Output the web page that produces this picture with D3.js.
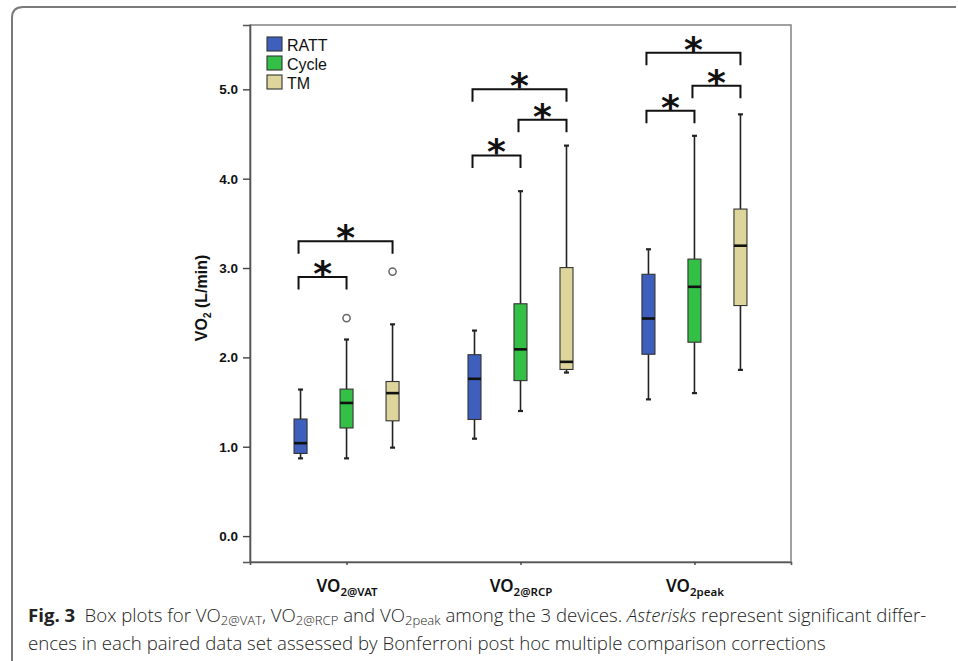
<!DOCTYPE html>
<html>
<head>
<meta charset="utf-8">
<script src="https://cdn.jsdelivr.net/npm/d3@7"></script>
<style>
  html, body { margin: 0; padding: 0; background: #fff; }
  svg { display: block; }
</style>
</head>
<body>
<svg id="chart" width="958" height="661"></svg>
<script>
// ---------- data ----------
const groups = ["VO2@VAT", "VO2@RCP", "VO2peak"];
const groupSubs = ["2@VAT", "2@RCP", "2peak"];
const devices = ["RATT", "Cycle", "TM"];
const deviceColors = ["#3f5fbd", "#34bf47", "#ddd59b"];
// five-number summaries per group: [low whisker, Q1, median, Q3, high whisker]
const rattStats  = [[0.87, 0.925, 1.04, 1.31, 1.64], [1.09, 1.305, 1.76, 2.03, 2.30], [1.53, 2.035, 2.435, 2.93, 3.21]];
const cycleStats = [[0.87, 1.21, 1.49, 1.645, 2.20], [1.40, 1.74, 2.09, 2.60, 3.86], [1.60, 2.17, 2.79, 3.10, 4.48]];
const tmStats    = [[0.99, 1.29, 1.60, 1.73, 2.37], [1.83, 1.865, 1.95, 3.005, 4.37], [1.86, 2.58, 3.25, 3.66, 4.72]];
const outlierGroup  = [0, 0];
const outlierDevice = [1, 2];
const outlierValue  = [2.44, 2.96];
const yTicks = [0, 1, 2, 3, 4, 5];
// significance brackets: group, from device, to device, bracket top value
const bracketGroup = [0, 0, 1, 1, 1, 2, 2, 2];
const bracketFrom  = [0, 0, 0, 1, 0, 0, 1, 0];
const bracketTo    = [1, 2, 1, 2, 2, 1, 2, 2];
const bracketValue = [2.90, 3.30, 4.26, 4.66, 5.00, 4.76, 5.04, 5.41];

const allStats = [rattStats, cycleStats, tmStats];

// ---------- layout ----------
const svg = d3.select("#chart");
const pLeft = 250, pRight = 791, pTop = 25, pBottom = 562;
const y = d3.scaleLinear().domain([-0.29, 5.72]).range([pBottom, pTop]);
const x = d3.scalePoint().domain(groups).range([pLeft, pRight]).padding(0.555);
const xi = d3.scalePoint().domain(devices).range([-46, 46]);
const boxW = 13;

// outer rounded frame
svg.append("path")
  .attr("d", "M12,661 V18 Q12,7 23,7 H956")
  .attr("fill", "none").attr("stroke", "#7a7a7a").attr("stroke-width", 2);

// plot border
svg.append("rect")
  .attr("x", pLeft).attr("y", pTop).attr("width", pRight - pLeft).attr("height", pBottom - pTop)
  .attr("fill", "none").attr("stroke", "#8a8a8a").attr("stroke-width", 1.6);

// y axis
const yAxis = svg.append("g")
  .attr("transform", `translate(${pLeft},0)`)
  .call(d3.axisLeft(y).tickValues(yTicks).tickFormat(d3.format(".1f")).tickSize(7).tickPadding(5));
yAxis.select(".domain").attr("stroke", "#555").attr("stroke-width", 1.6);
yAxis.selectAll(".tick line").attr("stroke", "#444").attr("stroke-width", 1.4);
yAxis.selectAll(".tick text")
  .attr("font-family", "Liberation Sans, Arial, sans-serif")
  .attr("font-size", 13.5).attr("font-weight", "bold").attr("fill", "#111");

// x axis
const xAxis = svg.append("g")
  .attr("transform", `translate(0,${pBottom})`)
  .call(d3.axisBottom(x).tickSize(3).tickPadding(14));
xAxis.select(".domain").attr("stroke", "#555").attr("stroke-width", 1.6);
xAxis.selectAll(".tick line").attr("stroke", "#444").attr("stroke-width", 1.4);
xAxis.selectAll(".tick text").each(function(d, i) {
  const t = d3.select(this);
  t.text(null)
    .attr("font-family", "Noto Sans, Open Sans, sans-serif")
    .attr("font-weight", 600).attr("fill", "#111")
    .attr("y", 30).attr("dy", 0);
  t.append("tspan").attr("font-size", 17).text("VO");
  t.append("tspan").attr("font-size", 11.5).attr("dy", 4).text(groupSubs[i]);
});

// y label
const yl = svg.append("text")
  .attr("transform", "translate(207,298) rotate(-90)")
  .attr("text-anchor", "middle")
  .attr("font-family", "Liberation Sans, Arial, sans-serif")
  .attr("font-weight", "bold").attr("fill", "#111");
yl.append("tspan").attr("font-size", 16).text("VO");
yl.append("tspan").attr("font-size", 10).attr("dy", 4).text("2");
yl.append("tspan").attr("font-size", 16).attr("dy", -4).text(" (L/min)");

// boxes
const boxData = [];
groups.forEach((g, gi) => devices.forEach((dv, di) => {
  const s = allStats[di][gi];
  boxData.push({ g, dv, di, lo: s[0], q1: s[1], med: s[2], q3: s[3], hi: s[4] });
}));
const bx = svg.append("g").selectAll("g").data(boxData).join("g")
  .attr("transform", d => `translate(${x(d.g) + xi(d.dv)},0)`);
bx.append("line").attr("y1", d => y(d.hi)).attr("y2", d => y(d.q3))
  .attr("stroke", "#222").attr("stroke-width", 1.6);
bx.append("line").attr("y1", d => y(d.lo)).attr("y2", d => y(d.q1))
  .attr("stroke", "#222").attr("stroke-width", 1.6);
bx.append("line").attr("x1", -2.5).attr("x2", 2.5).attr("y1", d => y(d.hi)).attr("y2", d => y(d.hi))
  .attr("stroke", "#222").attr("stroke-width", 2.2);
bx.append("line").attr("x1", -2.5).attr("x2", 2.5).attr("y1", d => y(d.lo)).attr("y2", d => y(d.lo))
  .attr("stroke", "#222").attr("stroke-width", 2.2);
bx.append("rect").attr("x", -boxW / 2).attr("width", boxW)
  .attr("y", d => y(d.q3)).attr("height", d => y(d.q1) - y(d.q3))
  .attr("fill", d => deviceColors[d.di]).attr("stroke", "#333").attr("stroke-width", 1.1);
bx.append("line").attr("x1", -boxW / 2).attr("x2", boxW / 2)
  .attr("y1", d => y(d.med)).attr("y2", d => y(d.med))
  .attr("stroke", "#111").attr("stroke-width", 2.6);

// outliers
svg.append("g").selectAll("circle").data(outlierValue).join("circle")
  .attr("cx", (v, i) => x(groups[outlierGroup[i]]) + xi(devices[outlierDevice[i]]))
  .attr("cy", v => y(v)).attr("r", 3.6)
  .attr("fill", "#fff").attr("stroke", "#666").attr("stroke-width", 1.5);

// significance brackets
const br = svg.append("g").selectAll("g").data(bracketValue).join("g");
br.append("path")
  .attr("d", (v, i) => {
    const x1 = x(groups[bracketGroup[i]]) + xi(devices[bracketFrom[i]]) - 2;
    const x2 = x(groups[bracketGroup[i]]) + xi(devices[bracketTo[i]]);
    const yt = y(v), yb = yt + 12.5;
    return `M${x1},${yb} V${yt} H${x2} V${yb}`;
  })
  .attr("fill", "none").attr("stroke", "#111").attr("stroke-width", 2);
br.append("text")
  .attr("x", (v, i) => x(groups[bracketGroup[i]]) + (xi(devices[bracketFrom[i]]) + xi(devices[bracketTo[i]])) / 2 - 1)
  .attr("y", v => y(v) + 9)
  .attr("text-anchor", "middle")
  .attr("font-family", "DejaVu Sans, sans-serif")
  .attr("font-size", 36).attr("font-weight", "bold").attr("fill", "#111")
  .text("*");

// legend
const lg = svg.append("g").selectAll("g").data(devices).join("g")
  .attr("transform", (d, i) => `translate(267,${37 + i * 19})`);
lg.append("rect").attr("width", 15).attr("height", 14)
  .attr("fill", (d, i) => deviceColors[i]).attr("stroke", "#333").attr("stroke-width", 1.1);
lg.append("text").attr("x", 20).attr("y", 13.5)
  .attr("font-family", "Liberation Sans, Arial, sans-serif")
  .attr("font-size", 16).attr("fill", "#111")
  .text(d => d);

// caption
const capFont = "Open Sans, Noto Sans, sans-serif";
const cap1 = svg.append("text").attr("x", 28).attr("y", 622)
  .attr("font-family", capFont).attr("font-weight", 300).attr("fill", "#222");
const seg = (t, s, opts = {}) => {
  const ts = t.append("tspan").text(s);
  Object.entries(opts).forEach(([k, v]) => ts.attr(k, v));
  return ts;
};
seg(cap1, "Fig. 3", { "font-weight": "bold" });
seg(cap1, "\u2002Box plots for VO");
seg(cap1, "2@VAT", { "font-size": "0.7em", dy: 3 });
seg(cap1, ", VO", { dy: -3 });
seg(cap1, "2@RCP", { "font-size": "0.7em", dy: 3 });
seg(cap1, " and VO", { dy: -3 });
seg(cap1, "2peak", { "font-size": "0.7em", dy: 3 });
seg(cap1, " among the 3 devices. ", { dy: -3 });
seg(cap1, "Asterisks", { "font-style": "italic" });
seg(cap1, " represent significant differ-");
const cap2 = svg.append("text").attr("x", 28).attr("y", 650)
  .attr("font-family", capFont).attr("font-weight", 300).attr("fill", "#222")
  .text("ences in each paired data set assessed by Bonferroni post hoc multiple comparison corrections");
// fit caption to its width
let fs = 17;
cap1.attr("font-size", fs); cap2.attr("font-size", fs);
const w1 = cap1.node().getComputedTextLength();
fs = fs * 899 / w1;
cap1.attr("font-size", fs); cap2.attr("font-size", fs);
</script>
</body>
</html>
